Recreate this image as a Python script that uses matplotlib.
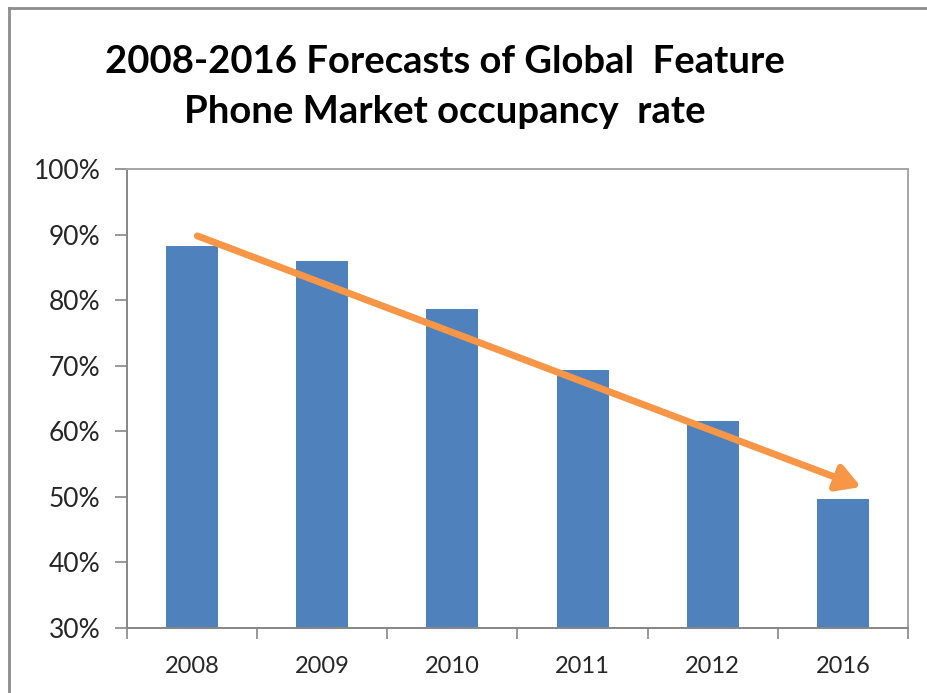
import matplotlib.pyplot as plt
import numpy as np
from matplotlib.lines import Line2D

# dati
years = ['2008', '2009', '2010', '2011', '2012', '2016']
share = [88.2, 86.0, 78.7, 69.3, 61.6, 49.7]
yticks = [30, 40, 50, 60, 70, 80, 90, 100]
arrow_from = (0.04, 89.8)
arrow_to = (5.14, 51.5)

plt.rcParams['font.family'] = ['Lato', 'DejaVu Sans']

fig = plt.figure(figsize=(9.28, 6.93), dpi=100)
ax = fig.add_axes([127 / 928, 1 - 628 / 693, (908 - 127) / 928, (628 - 169) / 693])

x = np.arange(len(years))
ax.bar(x, share, width=0.4, color='#4F81BD', zorder=2)

# freccia di tendenza
ax.annotate('', xy=arrow_to, xytext=arrow_from,
            arrowprops=dict(arrowstyle='-|>,head_length=0.7,head_width=0.4',
                            color='#F79646', lw=5, mutation_scale=20,
                            shrinkA=0, shrinkB=0),
            zorder=3)

ax.set_xlim(-0.5, len(years) - 0.5)
ax.set_ylim(30, 100)

# tacche sui confini delle categorie, etichette al centro
ax.set_xticks(np.arange(-0.5, len(years), 1.0))
ax.set_xticklabels([])
ax.set_xticks(x, minor=True)
ax.set_xticklabels(years, minor=True)
ax.tick_params(axis='x', which='major', length=8, width=1.2, color='#868686', direction='out')
ax.tick_params(axis='x', which='minor', length=0, pad=20, labelsize=17, labelcolor='#262626')

ax.set_yticks(yticks)
ax.set_yticklabels([f'{v}%' for v in yticks])
ax.tick_params(axis='y', length=9, width=1.2, color='#868686', direction='out', pad=10,
               labelsize=19, labelcolor='#262626')

for s in ax.spines.values():
    s.set_color('#868686')
    s.set_linewidth(1.4)
ax.spines['top'].set_color('#A6A6A6')
ax.spines['right'].set_color('#A6A6A6')

# titolo su due righe
fig.text(445 / 928, 1 - 62 / 693, '2008-2016 Forecasts of Global  Feature',
         ha='center', va='center', fontsize=27.5, fontweight='bold', color='black')
fig.text(445 / 928, 1 - 112 / 693, 'Phone Market occupancy  rate',
         ha='center', va='center', fontsize=27.5, fontweight='bold', color='black')

# bordo esterno del grafico
fig.add_artist(Line2D([9.5 / 928, 9.5 / 928], [0, 1 - 8 / 693], color='#8C8C8C', lw=2))
fig.add_artist(Line2D([9 / 928, 1], [1 - 8 / 693, 1 - 8 / 693], color='#8C8C8C', lw=2))

fig.savefig('out.png', dpi=100)
